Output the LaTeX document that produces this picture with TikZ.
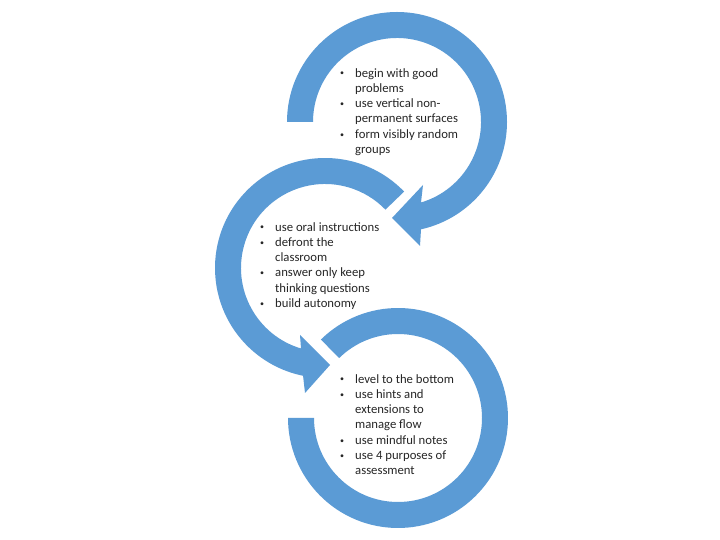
\documentclass[tikz,border=0pt]{standalone}
\usepackage{fontspec}
\setmainfont{Carlito}
\usetikzlibrary{calc}
\definecolor{arrowblue}{HTML}{5B9BD5}
\definecolor{txtgray}{HTML}{262626}
\newcommand\bitem{\makebox[16pt][l]{\hspace{1pt}\raisebox{1.2pt}{\fontsize{8}{8}\selectfont\textbullet}}}
\newcommand\bcont{\makebox[16pt]{}}
\begin{document}
\begin{tikzpicture}[x=1pt,y=1pt,
  ringshape/.style={fill=arrowblue},
  listtext/.style={anchor=north west,inner sep=0pt,align=left,text=txtgray,
    font=\fontsize{12.7}{15.3}\selectfont}]
\useasboundingbox (0,0) rectangle (720,540);
\fill[white] (0,0) rectangle (720,540);
\coordinate (T) at (397,418);
\coordinate (M) at (325,272);
\coordinate (B) at (398,122);
% top ring with arrowhead
\fill[ringshape] ($(T)+(180:110pt)$) arc[start angle=180,end angle=-77.4,radius=110pt]
  -- (420,294) -- (392,322) -- (423,355) -- ($(T)+(-73.4:84pt)$)
  arc[start angle=-73.4,end angle=180,radius=84pt] -- cycle;
% middle ring with arrowhead
\fill[ringshape] ($(M)+(44:110pt)$) arc[start angle=44,end angle=258.5,radius=110pt]
  -- (305,147) -- (330,175) -- (300,205) -- ($(M)+(253.4:84pt)$)
  arc[start angle=253.4,end angle=44,radius=84pt] -- cycle;
% bottom ring
\fill[ringshape] ($(B)+(134.5:110pt)$) arc[start angle=134.5,end angle=-180,radius=110pt]
  -- ($(B)+(180:84pt)$) arc[start angle=-180,end angle=134.5,radius=84pt] -- cycle;
% texts
\node[listtext] (toptext) at (339,472) {\bitem begin with good\\ \bcont problems\\
  \bitem use vertical non-\\ \bcont permanent surfaces\\ \bitem form visibly random\\ \bcont groups};
\node[listtext] (midtext) at (259,318) {\bitem use oral instructions\\ \bitem defront the\\
  \bcont classroom\\ \bitem answer only keep\\ \bcont thinking questions\\ \bitem build autonomy};
\node[listtext] (bottext) at (339,166) {\bitem level to the bottom\\ \bitem use hints and\\
  \bcont extensions to\\ \bcont manage flow\\ \bitem use mindful notes\\ \bitem use 4 purposes of\\
  \bcont assessment};
\end{tikzpicture}
\end{document}
